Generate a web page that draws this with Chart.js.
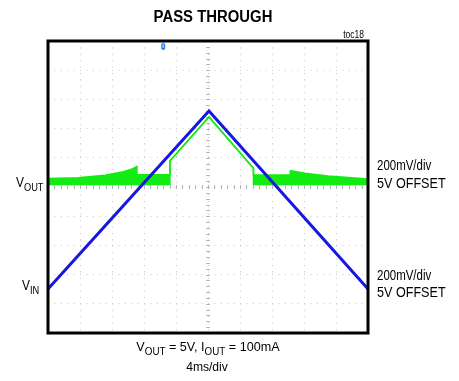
<!DOCTYPE html>
<html>
<head>
<meta charset="utf-8">
<script src="https://cdn.jsdelivr.net/npm/chart.js@4/dist/chart.umd.min.js"></script>
<style>
  html, body { margin: 0; padding: 0; background: #ffffff; }
  #wrap { width: 459px; height: 381px; }
</style>
</head>
<body>
<div id="wrap"><canvas id="scope" width="459" height="381"></canvas></div>
<script>
// Time axis in divisions (4ms/div), amplitude in divisions about screen centre.
const voutTime = [0, 0.94, 1.78, 2.31, 2.63, 2.78, 2.78, 3.81, 3.81, 5.03, 6.42, 6.42, 7.56, 7.58, 8.03, 8.75, 10];
const voutHigh = [0.29, 0.32, 0.40, 0.51, 0.62, 0.70, 0.42, 0.42, 0.89, 2.40, 0.64, 0.41, 0.41, 0.56, 0.47, 0.38, 0.27];
const voutLow  = [0.085, 0.085, 0.085, 0.085, 0.085, 0.085, 0.085, 0.085, 0.89, 2.40, 0.64, 0.085, 0.085, 0.085, 0.085, 0.085, 0.085];
const vinTime  = [0, 5.03, 10];
const vinLevel = [-3.49, 2.60, -3.49];
const triggerTime = 3.6;

const toPoints = (xs, ys) => xs.map((x, i) => ({ x: x, y: ys[i] }));

// Draw text squeezed horizontally by factor sx; parts may be subscripts.
function richText(ctx, parts, x, y, size, align, sx, bold) {
  const fam = '"Liberation Sans", Arial, sans-serif';
  const w = parts.reduce((acc, p) => {
    ctx.font = (bold ? 'bold ' : '') + (p.sub ? size * 0.78 : size) + 'px ' + fam;
    return acc + ctx.measureText(p.t).width * sx;
  }, 0);
  let cx = align === 'center' ? x - w / 2 : align === 'right' ? x - w : x;
  parts.forEach(p => {
    ctx.save();
    ctx.font = (bold ? 'bold ' : '') + (p.sub ? size * 0.78 : size) + 'px ' + fam;
    const pw = ctx.measureText(p.t).width * sx;
    ctx.translate(cx, y + (p.sub ? size * 0.3 : 0));
    ctx.scale(sx, 1);
    ctx.fillStyle = '#000';
    ctx.textBaseline = 'alphabetic';
    ctx.fillText(p.t, 0, 0);
    ctx.restore();
    cx += pw;
  });
}

const scopeDecor = {
  id: 'scopeDecor',
  beforeDatasetsDraw(chart) {
    const { ctx, scales: { x, y } } = chart;
    const cx = x.getPixelForValue(5), cy = y.getPixelForValue(0);
    ctx.save();
    ctx.strokeStyle = '#b4b4bc';
    ctx.lineWidth = 1;
    ctx.beginPath();
    for (let v = 0; v <= 10.001; v += 0.2) {
      const px = Math.round(x.getPixelForValue(v)) + 0.5;
      ctx.moveTo(px, cy - 2); ctx.lineTo(px, cy + 2);
    }
    for (let v = -5; v <= 5.001; v += 0.2) {
      const py = Math.round(y.getPixelForValue(v)) + 0.5;
      ctx.moveTo(cx - 2, py); ctx.lineTo(cx + 2, py);
    }
    ctx.stroke();
    ctx.restore();
  },
  afterDatasetsDraw(chart) {
    const { ctx, chartArea: a, scales: { x } } = chart;
    ctx.save();
    ctx.strokeStyle = '#000';
    ctx.lineWidth = 3;
    ctx.strokeRect(a.left, a.top, a.right - a.left, a.bottom - a.top);
    // trigger position marker
    const tx = x.getPixelForValue(triggerTime);
    ctx.fillStyle = '#2a7cf0';
    ctx.beginPath();
    ctx.roundRect(tx - 2, a.top + 2, 4, 7, 2);
    ctx.fill();
    ctx.fillStyle = '#cfe2ff';
    ctx.fillRect(tx - 0.5, a.top + 3, 1, 4);
    ctx.restore();
  },
  afterDraw(chart) {
    const { ctx } = chart;
    richText(ctx, [{ t: 'PASS THROUGH' }], 213, 22, 16, 'center', 0.93, true);
    richText(ctx, [{ t: 'toc18' }], 364, 38, 10, 'right', 0.85);
    richText(ctx, [{ t: 'V' }, { t: 'OUT', sub: true }], 16, 187, 14, 'left', 0.85);
    richText(ctx, [{ t: 'V' }, { t: 'IN', sub: true }], 22, 290, 14, 'left', 0.85);
    richText(ctx, [{ t: '200mV/div' }], 377, 170, 14, 'left', 0.82);
    richText(ctx, [{ t: '5V OFFSET' }], 377, 188, 14, 'left', 0.9);
    richText(ctx, [{ t: '200mV/div' }], 377, 280, 14, 'left', 0.82);
    richText(ctx, [{ t: '5V OFFSET' }], 377, 297, 14, 'left', 0.9);
    richText(ctx, [{ t: 'V' }, { t: 'OUT', sub: true }, { t: ' = 5V, I' }, { t: 'OUT', sub: true }, { t: ' = 100mA' }],
      208, 351, 13, 'center', 0.97);
    richText(ctx, [{ t: '4ms/div' }], 207, 370.5, 13, 'center', 0.93);
  }
};

const gridAxis = (min, max) => ({
  type: 'linear',
  min: min, max: max,
  ticks: { display: false, stepSize: 1 },
  grid: { color: '#c6c6ce', lineWidth: 1, drawTicks: false },
  border: { display: false, dash: [1, 5.4] }
});

new Chart(document.getElementById('scope'), {
  type: 'line',
  data: {
    datasets: [
      {
        label: 'VIN',
        data: toPoints(vinTime, vinLevel),
        borderColor: '#1717e0',
        borderWidth: 3,
        borderJoinStyle: 'miter',
        pointRadius: 0,
        fill: false
      },
      {
        label: 'VOUT',
        data: toPoints(voutTime, voutHigh),
        borderColor: '#13ec13',
        borderWidth: 1.5,
        pointRadius: 0,
        fill: false
      },
      {
        label: 'VOUT ripple',
        data: toPoints(voutTime, voutLow),
        borderColor: '#13ec13',
        backgroundColor: '#13ec13',
        borderWidth: 1.5,
        pointRadius: 0,
        fill: '-1'
      }
    ]
  },
  options: {
    responsive: false,
    animation: false,
    parsing: true,
    layout: { padding: { left: 48, top: 41, right: 91, bottom: 48 } },
    elements: { line: { tension: 0 } },
    plugins: { legend: { display: false }, tooltip: { enabled: false }, title: { display: false } },
    scales: { x: gridAxis(0, 10), y: gridAxis(-5, 5) }
  },
  plugins: [scopeDecor]
});
</script>
</body>
</html>
